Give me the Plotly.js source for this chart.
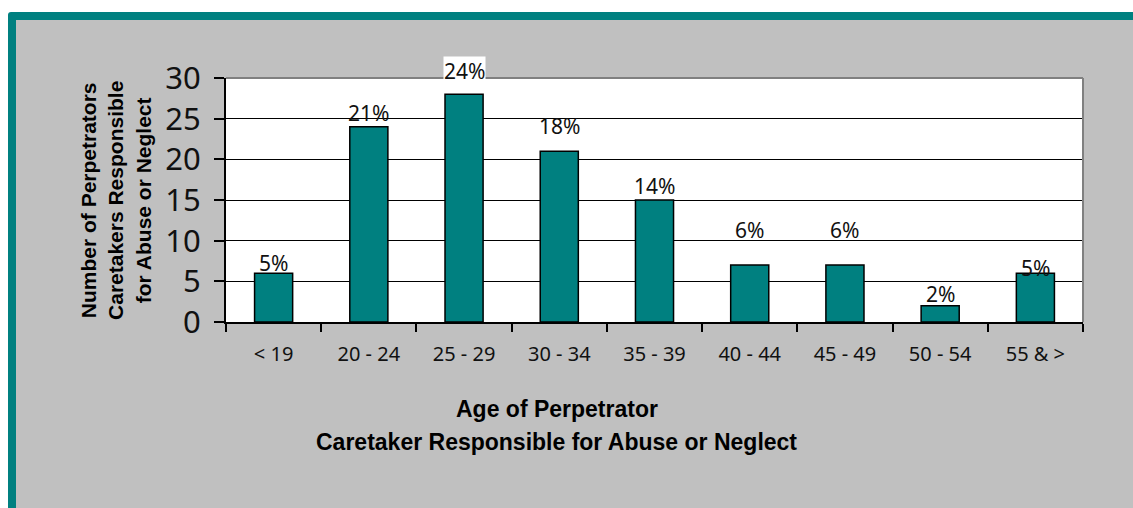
<!DOCTYPE html>
<html>
<head>
<meta charset="utf-8">
<script src="https://cdn.plot.ly/plotly-3.0.1.min.js"></script>
<style>
  html, body { margin: 0; padding: 0; background: #ffffff; width: 1133px; height: 508px; overflow: hidden; }
  #frame { position: absolute; left: 8px; top: 12px; width: 1125px; height: 496px;
           background: #008080; border-top-left-radius: 3px; }
  #chart { position: absolute; left: 16px; top: 20px; width: 1117px; height: 488px; }
</style>
</head>
<body>
<div id="frame"></div>
<div id="chart"></div>
<script>
// ---- data ----
const ageGroups = ["< 19", "20 - 24", "25 - 29", "30 - 34", "35 - 39", "40 - 44", "45 - 49", "50 - 54", "55 & >"];
const perpetratorCounts = [6, 24, 28, 21, 15, 7, 7, 2, 6];
const percentLabels = ["5%", "21%", "24%", "18%", "14%", "6%", "6%", "2%", "5%"];
const yTickValues = [0, 5, 10, 15, 20, 25, 30];

// label nudges (pixels) to mimic manually placed data labels
const labelShift = [-5, -1, 8, 10, -1, 20, 20, -3, -10];

const trace = {
  type: "bar",
  x: ageGroups,
  y: perpetratorCounts,
  width: 0.4,
  marker: { color: "#008080", line: { color: "#000000", width: 1.5 } },
  hoverinfo: "x+y"
};

const annotations = ageGroups.map((g, i) => ({
  x: g, y: perpetratorCounts[i], xref: "x", yref: "y",
  text: percentLabels[i], showarrow: false,
  yanchor: "bottom", yshift: labelShift[i],
  font: { family: "Noto Sans, Liberation Sans, sans-serif", size: 21, color: "#111111" },
  bgcolor: i === 2 ? "#ffffff" : "rgba(0,0,0,0)", borderpad: 0
}));

annotations.push({
  xref: "paper", yref: "paper", x: -0.1284, y: 0.5,
  xanchor: "center", yanchor: "middle", textangle: -90, showarrow: false,
  text: "Number of Perpetrators<br>Caretakers Responsible<br>for Abuse or Neglect",
  font: { family: "Liberation Sans, Arial, sans-serif", size: 21, color: "#000000", weight: "bold" }
});
annotations.push({
  xref: "paper", yref: "paper", x: 0.386, y: -0.357,
  xanchor: "center", yanchor: "middle", showarrow: false,
  text: "<b>Age of Perpetrator</b>",
  font: { family: "Liberation Sans, Arial, sans-serif", size: 23, color: "#000000" }
});
annotations.push({
  xref: "paper", yref: "paper", x: 0.386, y: -0.492,
  xanchor: "center", yanchor: "middle", showarrow: false,
  text: "<b>Caretaker Responsible for Abuse or Neglect</b>",
  font: { family: "Liberation Sans, Arial, sans-serif", size: 23, color: "#000000" }
});

const layout = {
  width: 1117, height: 488,
  margin: { l: 210, r: 50, t: 58, b: 186, pad: 0 },
  paper_bgcolor: "#C0C0C0",
  plot_bgcolor: "#ffffff",
  showlegend: false,
  bargap: 0.6,
  xaxis: {
    type: "category",
    tickson: "boundaries",
    ticks: "outside", ticklen: 8, tickwidth: 2, tickcolor: "#000000",
    showline: true, linecolor: "#000000", linewidth: 2,
    showgrid: false, zeroline: false,
    ticklabelstandoff: 13,
    tickfont: { family: "Noto Sans, Liberation Sans, sans-serif", size: 20, color: "#111111" }
  },
  yaxis: {
    range: [0, 30],
    tickvals: yTickValues,
    ticks: "outside", ticklen: 10, tickwidth: 2, tickcolor: "#000000",
    showline: true, linecolor: "#000000", linewidth: 2,
    showgrid: true, gridcolor: "#000000", gridwidth: 1,
    zeroline: false,
    ticklabelstandoff: 7,
    tickfont: { family: "Noto Sans, Liberation Sans, sans-serif", size: 31, color: "#111111" }
  },
  shapes: [
    { type: "line", xref: "paper", yref: "paper", x0: 0, x1: 1, y0: 1, y1: 1,
      line: { color: "#808080", width: 2 }, layer: "above" },
    { type: "line", xref: "paper", yref: "paper", x0: 1, x1: 1, y0: 0, y1: 1,
      line: { color: "#808080", width: 2 }, layer: "above" }
  ],
  annotations: annotations
};

Plotly.newPlot("chart", [trace], layout, { displayModeBar: false, staticPlot: true });
</script>
</body>
</html>
